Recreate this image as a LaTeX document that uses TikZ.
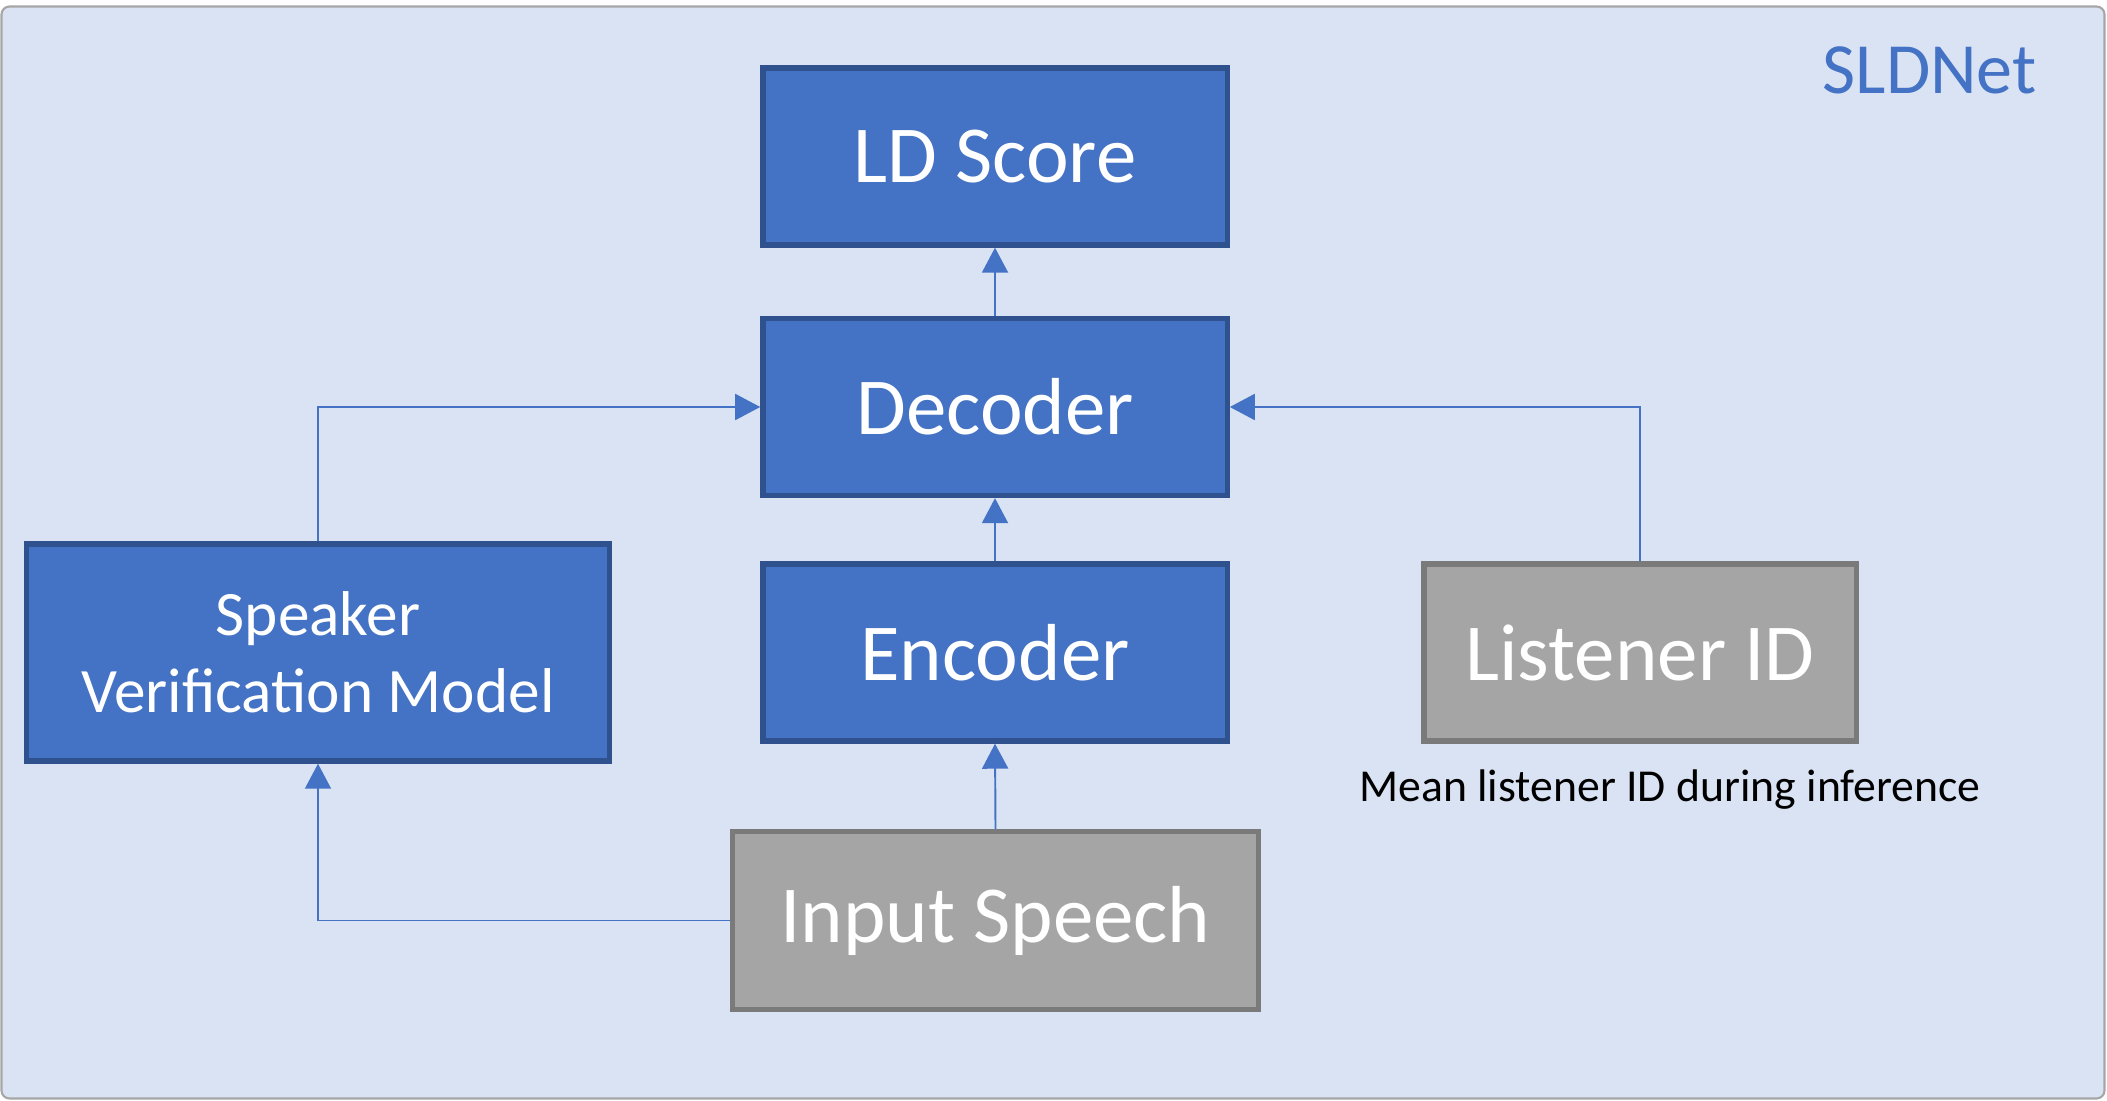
\documentclass[tikz,border=0pt]{standalone}
\usepackage{fontspec}
\setmainfont{Carlito}
\usetikzlibrary{arrows.meta}
\definecolor{bgblue}{HTML}{DAE3F3}
\definecolor{frameg}{HTML}{A6A6A6}
\definecolor{bluefill}{HTML}{4472C4}
\definecolor{blueline}{HTML}{2F528F}
\definecolor{grayfill}{HTML}{A5A5A5}
\definecolor{grayline}{HTML}{7A7A7A}
\tikzset{
  bluebox/.style={draw=blueline, fill=bluefill, line width=1.5pt, inner sep=0pt, text=white, align=center},
  graybox/.style={draw=grayline, fill=grayfill, line width=1.5pt, inner sep=0pt, text=white, align=center},
  bigtxt/.style={font=\fontsize{23}{27}\selectfont},
  arr/.style={draw=bluefill, line width=0.55pt, -{Triangle[length=0.25cm,width=0.26cm]}}
}
\begin{document}
\begin{tikzpicture}[x=0.01cm, y=-0.01cm]
\useasboundingbox (0,0) rectangle (2107,1101);
\draw[draw=frameg, fill=bgblue, line width=0.6pt, rounded corners=0.08cm] (1.5,6.5) rectangle (2104.5,1098.5);
\node[anchor=east, text=bluefill, font=\fontsize{20.5}{24}\selectfont] (title) at (2049,70) {SLDNet};
\node[bluebox, bigtxt, minimum width=4.64cm, minimum height=1.77cm] (ld) at (995,156.5) {LD Score};
\node[bluebox, bigtxt, minimum width=4.64cm, minimum height=1.77cm] (dec) at (995,407) {Decoder};
\node[bluebox, bigtxt, minimum width=4.64cm, minimum height=1.77cm] (enc) at (995,652.5) {Encoder};
\node[bluebox, font=\fontsize{18}{22}\selectfont, minimum width=5.83cm, minimum height=2.17cm] (spk) at (318,652.5) {Speaker\\Verification Model};
\node[graybox, bigtxt, minimum width=4.32cm, minimum height=1.77cm] (lis) at (1640,652.5) {Listener ID};
\node[graybox, bigtxt, minimum width=5.25cm, minimum height=1.78cm] (inp) at (995.5,920.5) {Input Speech};
\node[font=\fontsize{13}{16}\selectfont, text=black, inner sep=0pt] (cap) at (1670,790) {Mean listener ID during inference};
\draw[arr] (dec.north) -- (ld.south);
\draw[arr] (enc.north) -- (dec.south);
\draw[arr] (inp.north) -- (enc.south);
\draw[arr] (spk.north) |- (dec.west);
\draw[arr] (lis.north) |- (dec.east);
\draw[arr] (inp.west) -| (spk.south);
\end{tikzpicture}
\end{document}
